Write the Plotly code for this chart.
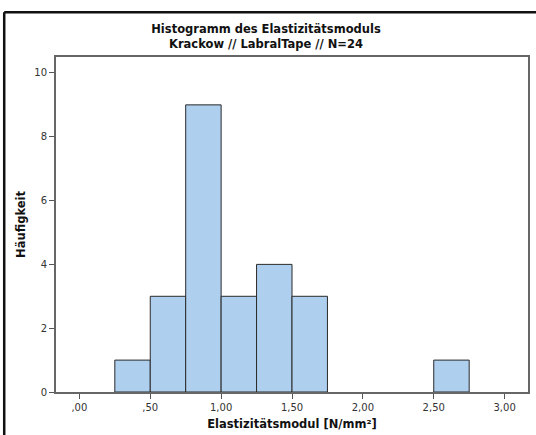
import plotly.graph_objects as go

bin_left = [0.25, 0.50, 0.75, 1.00, 1.25, 1.50, 2.50]
counts = [1, 3, 9, 3, 4, 3, 1]
bin_width = 0.25
x_tickvals = [0, 0.5, 1.0, 1.5, 2.0, 2.5, 3.0]
x_ticktext = [",00", ",50", "1,00", "1,50", "2,00", "2,50", "3,00"]
y_tickvals = [0, 2, 4, 6, 8, 10]

W, H = 536, 435
L, T, R, B = 56, 57, 6, 42
pw, ph = W - L - R, H - T - B

fig = go.Figure(go.Bar(
    x=[b + bin_width / 2 for b in bin_left],
    y=counts,
    width=bin_width,
    marker=dict(color="#aecfee", line=dict(color="#2a2a2a", width=1)),
    hoverinfo="x+y",
))

tick_font = dict(family="DejaVu Sans", size=10, color="#333333")
fig.update_xaxes(range=[-0.165, 3.165], tickvals=x_tickvals, ticktext=x_ticktext,
                 ticks="outside", ticklen=5, tickcolor="#555", tickwidth=1,
                 showline=True, linecolor="#666", linewidth=2, mirror=True,
                 showgrid=False, zeroline=False, tickfont=tick_font,
                 title=dict(text="<b>Elastizitätsmodul [N/mm²]</b>", standoff=8,
                            font=dict(family="DejaVu Sans", size=11.5, color="#111")))
fig.update_yaxes(range=[0, 10.5], tickvals=y_tickvals,
                 ticks="outside", ticklen=5, tickcolor="#555", tickwidth=1,
                 showline=True, linecolor="#666", linewidth=2, mirror=True,
                 showgrid=False, zeroline=False, tickfont=tick_font,
                 title=dict(text="<b>Häufigkeit</b>", standoff=6,
                            font=dict(family="DejaVu Sans", size=11.5, color="#111")))

# outer frame lines (left and top)
x_left = (4 - L) / pw
y_top = 1 + (T - 12) / ph
fig.add_shape(type="line", xref="paper", yref="paper", x0=x_left, x1=x_left,
              y0=-0.3, y1=y_top, line=dict(color="#111", width=2.5))
fig.add_shape(type="line", xref="paper", yref="paper", x0=x_left, x1=1.1,
              y0=y_top, y1=y_top, line=dict(color="#111", width=2.5))

fig.update_layout(
    width=W, height=H,
    margin=dict(l=L, r=R, t=T, b=B),
    paper_bgcolor="white", plot_bgcolor="white",
    showlegend=False,
    title=dict(text="<b>Histogramm des Elastizitätsmoduls<br>Krackow // LabralTape // N=24</b>",
               x=(266) / W, xanchor="center", y=1 - 33 / H, yanchor="middle",
               font=dict(family="DejaVu Sans", size=11.5, color="#111")),
)

fig.write_html("out.html", config={"displayModeBar": False},
               post_script="document.body.style.margin='0px';document.body.style.overflow='hidden';")
